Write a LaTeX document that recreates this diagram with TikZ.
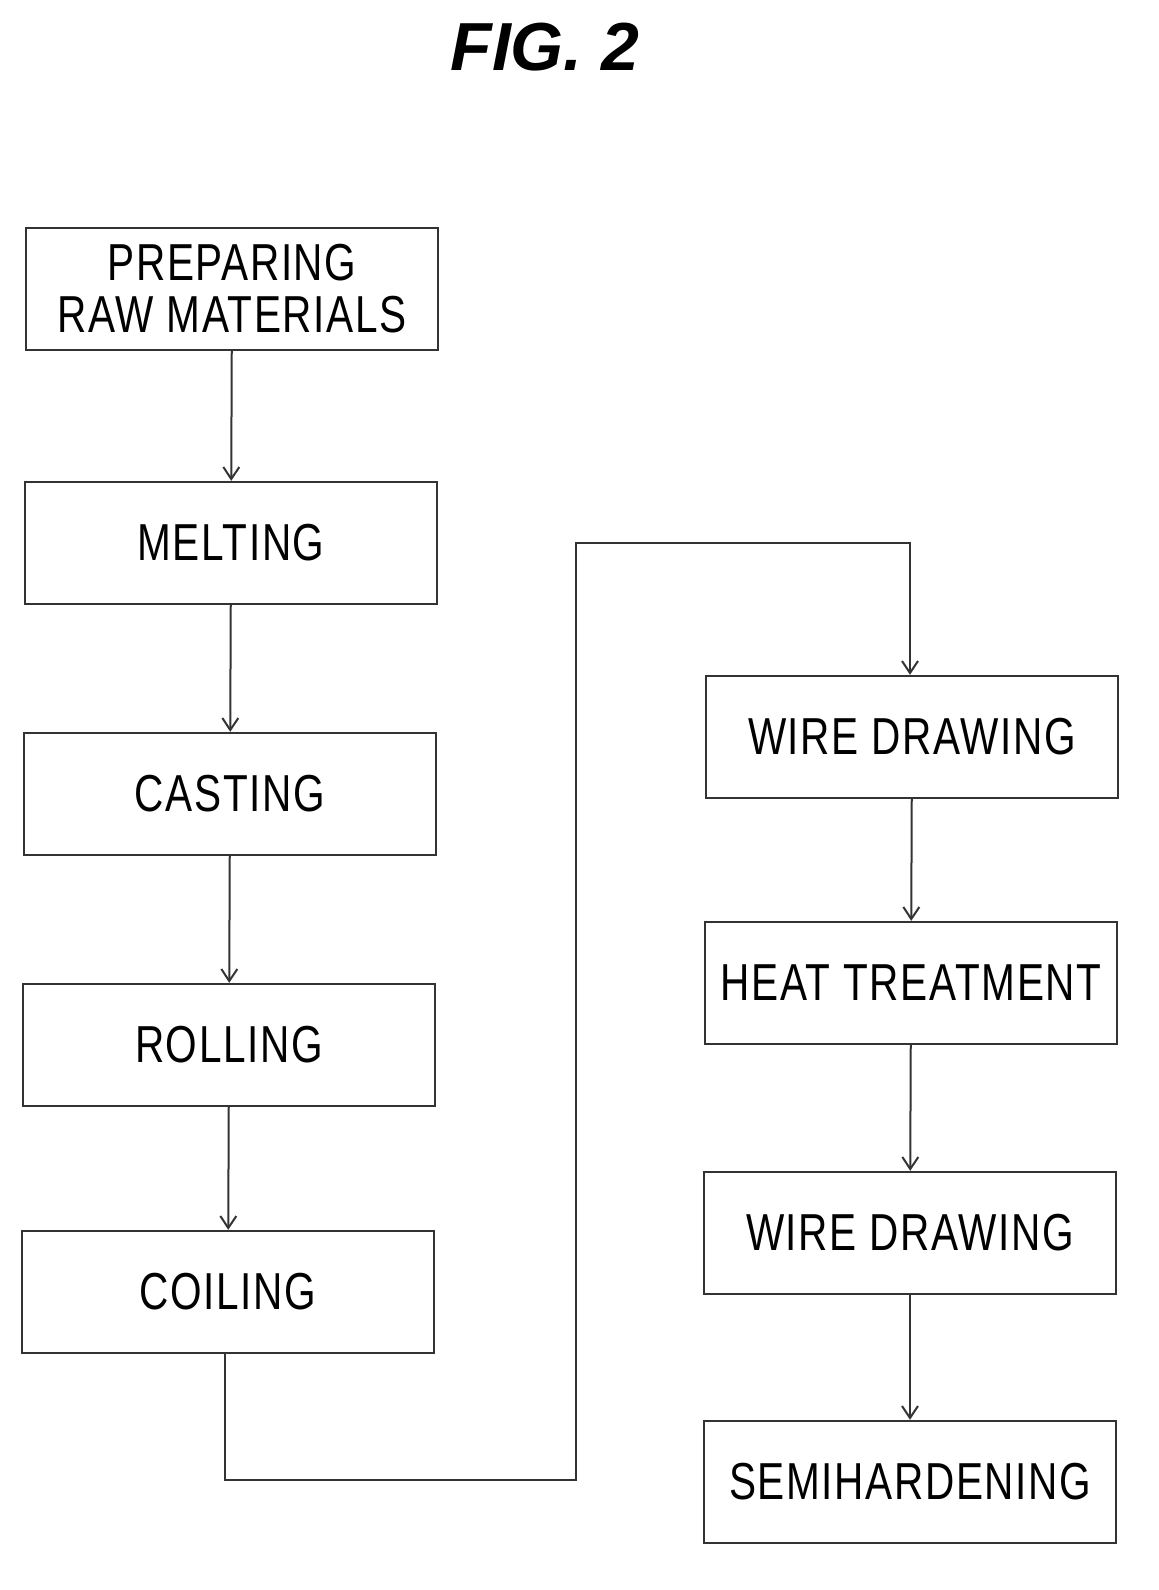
\documentclass[tikz,border=0pt]{standalone}
\usepackage{fontspec}
\setmainfont{Liberation Sans}
\usetikzlibrary{arrows.meta}
\newcommand\lbl[1]{\scalebox{0.78}[1]{\addfontfeature{LetterSpace=4}#1}}
\begin{document}
\begin{tikzpicture}[x=0.5pt,y=-0.5pt,
  box/.style={draw=black!80,line width=1.2pt,minimum width=206pt,minimum height=61pt,inner sep=0pt,align=center,font=\fontsize{26}{30}\selectfont},
  arr/.style={draw=black!80,line width=1pt,-{Straight Barb[length=6pt,width=8pt]}}]
\useasboundingbox (0,0) rectangle (1158,1590);
\node[font=\fontsize{34}{40}\selectfont\bfseries\itshape] (t) at (545,47) {FIG. 2};
\node[box] (a) at (232,289) {\lbl{PREPARING}\\[-4pt]\lbl{RAW MATERIALS}};
\node[box] (b) at (231,543) {\lbl{MELTING}};
\node[box] (c) at (230,794) {\lbl{CASTING}};
\node[box] (d) at (229,1045) {\lbl{ROLLING}};
\node[box] (e) at (228,1292) {\lbl{COILING}};
\node[box] (f) at (912,737) {\lbl{WIRE DRAWING}};
\node[box] (g) at (911,983) {\lbl{HEAT TREATMENT}};
\node[box] (h) at (910,1233) {\lbl{WIRE DRAWING}};
\node[box] (i) at (910,1482) {\lbl{SEMIHARDENING}};
\draw[arr] (a) -- (b);
\draw[arr] (b) -- (c);
\draw[arr] (c) -- (d);
\draw[arr] (d) -- (e);
\coordinate (p1) at (225,1480);
\coordinate (p2) at (576,1480);
\coordinate (p3) at (576,543);
\coordinate (p4) at (910,543);
\draw[arr] (e.south -| p1) -- (p1) -- (p2) -- (p3) -- (p4) -- (f.north -| p4);
\draw[arr] (f) -- (g);
\draw[arr] (g) -- (h);
\draw[arr] (h) -- (i);
\end{tikzpicture}
\end{document}
